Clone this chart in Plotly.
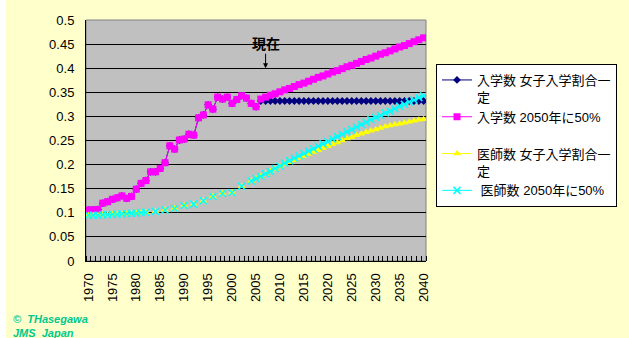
import plotly.graph_objects as go

# Years on the category axis
years = list(range(1970, 2041))

# Female share of medical school entrants, observed 1970-2005
entrants_observed = [
    0.106, 0.106, 0.107, 0.120, 0.123, 0.128, 0.131, 0.135, 0.130, 0.134,
    0.149, 0.161, 0.167, 0.185, 0.185, 0.192, 0.204, 0.239, 0.232, 0.251,
    0.253, 0.263, 0.261, 0.297, 0.303, 0.324, 0.315, 0.340, 0.336, 0.340,
    0.327, 0.335, 0.343, 0.338, 0.327, 0.320,
]
# Projection 2006-2040: entrant share held constant
entrants_constant = [
    0.332, 0.332, 0.332, 0.332, 0.332, 0.332, 0.332, 0.332, 0.332, 0.332,
    0.332, 0.332, 0.332, 0.332, 0.332, 0.332, 0.332, 0.332, 0.332, 0.332,
    0.332, 0.332, 0.332, 0.332, 0.332, 0.332, 0.332, 0.332, 0.332, 0.332,
    0.332, 0.332, 0.332, 0.332, 0.332,
]
# Projection 2006-2040: entrant share reaching 50% in 2050
entrants_to50 = [
    0.336, 0.340, 0.344, 0.347, 0.351, 0.355, 0.358, 0.362, 0.366, 0.369,
    0.373, 0.377, 0.381, 0.384, 0.388, 0.392, 0.395, 0.399, 0.403, 0.406,
    0.410, 0.414, 0.418, 0.421, 0.425, 0.429, 0.432, 0.436, 0.440, 0.444,
    0.447, 0.451, 0.455, 0.459, 0.463,
]

# Female share of physicians, observed 1970-2004 (biennial survey after 1982)
doctors_observed = [
    0.095, 0.095, 0.095, 0.096, 0.096, 0.097, 0.097, 0.098, 0.098, 0.099,
    0.099, 0.100, 0.101, None, 0.103, None, 0.106, None, 0.109, None,
    0.115, None, 0.118, None, 0.125, None, 0.134, None, 0.140, None,
    0.142, None, 0.155, None, 0.166,
]
# Projection 2005-2040 with constant entrant share
doctors_constant = [
    0.171, 0.176, 0.181, 0.186, 0.191, 0.196, 0.201, 0.205, 0.209, 0.214,
    0.218, 0.222, 0.226, 0.230, 0.234, 0.238, 0.242, 0.246, 0.250, 0.254,
    0.257, 0.261, 0.264, 0.267, 0.270, 0.273, 0.276, 0.279, 0.281, 0.283,
    0.285, 0.287, 0.289, 0.291, 0.293, 0.294,
]
# Projection 2005-2040 with entrant share reaching 50% in 2050
doctors_to50 = [
    0.171, 0.176, 0.181, 0.186, 0.192, 0.197, 0.203, 0.208, 0.213, 0.218,
    0.223, 0.228, 0.233, 0.238, 0.243, 0.248, 0.253, 0.258, 0.263, 0.268,
    0.273, 0.278, 0.283, 0.288, 0.293, 0.298, 0.302, 0.307, 0.311, 0.316,
    0.321, 0.325, 0.330, 0.334, 0.339, 0.343,
]

series_names = [
    "入学数 女子入学割合一<br>定",
    "入学数 2050年に50%<br> ",
    "医師数 女子入学割合一<br>定",
    " 医師数 2050年に50%",
]

x_tick_labels = [str(y) for y in range(1970, 2041, 5)]
y_tick_values = [i * 0.05 for i in range(11)]

FONT = "Liberation Sans, Arial, Noto Sans CJK JP, sans-serif"
W, H = 629, 338
L, R, T, B = 86, 203, 20, 77
PW, PH = W - L - R, H - T - B


def px_x(p):
    return (p - L) / PW


def px_y(p):
    return (H - B - p) / PH


fig = go.Figure()

fig.add_trace(go.Scatter(
    x=years, y=entrants_observed + entrants_constant, name=series_names[0],
    mode="lines+markers", connectgaps=False,
    line=dict(color="#000080", width=1),
    marker=dict(symbol="diamond", size=6, color="#000080"),
))
fig.add_trace(go.Scatter(
    x=years, y=entrants_observed + entrants_to50, name=series_names[1],
    mode="lines+markers", connectgaps=False,
    line=dict(color="#FF00FF", width=1),
    marker=dict(symbol="square", size=7, color="#FF00FF"),
))
fig.add_trace(go.Scatter(
    x=years, y=doctors_observed + doctors_constant, name=series_names[2],
    mode="lines+markers", connectgaps=False,
    line=dict(color="#FFFF00", width=1),
    marker=dict(symbol="triangle-up", size=7, color="#FFFF00"),
))
fig.add_trace(go.Scatter(
    x=years, y=doctors_observed + doctors_to50, name=series_names[3],
    mode="lines+markers", connectgaps=False,
    line=dict(color="#00FFFF", width=1),
    marker=dict(symbol="x-thin", size=7, color="#00FFFF",
                line=dict(color="#00FFFF", width=1.5)),
))

# Page background with a narrow white strip at the left, and the grey plot area
fig.add_shape(type="rect", xref="paper", yref="paper", layer="below",
              x0=px_x(6), x1=px_x(W + 2), y0=px_y(H + 2), y1=px_y(-2),
              fillcolor="#FFFFCC", line=dict(width=0))
fig.add_shape(type="rect", xref="paper", yref="paper", layer="below",
              x0=0, x1=1, y0=0, y1=1,
              fillcolor="#C0C0C0", line=dict(color="#808080", width=1))

# "現在" marker pointing at the start of the projections
fig.add_annotation(
    x=2007, y=0.40, xref="x", yref="y",
    text="<b>現在</b>", showarrow=True, ax=0, ay=-24,
    arrowhead=2, arrowsize=1, arrowwidth=1, arrowcolor="black",
    font=dict(family=FONT, size=14, color="black"),
)

# Copyright credit
fig.add_annotation(
    x=px_x(11), y=px_y(326), xref="paper", yref="paper",
    xanchor="left", yanchor="middle", showarrow=False, align="left",
    text="<b><i>©  THasegawa<br>JMS  Japan</i></b>",
    font=dict(family=FONT, size=11, color="#00C88C"),
)

fig.update_layout(
    width=W, height=H,
    margin=dict(l=L, r=R, t=T, b=B, autoexpand=False),
    paper_bgcolor="white",
    plot_bgcolor="rgba(0,0,0,0)",
    font=dict(family=FONT, size=13, color="black"),
    showlegend=True,
    legend=dict(
        x=px_x(436), y=px_y(64), xanchor="left", yanchor="top",
        bgcolor="white", bordercolor="black", borderwidth=1,
        font=dict(family=FONT, size=13, color="black"),
        valign="top", tracegroupgap=0, itemwidth=30,
    ),
    xaxis=dict(
        range=[1969.5, 2040.5],
        tickmode="array",
        tickvals=list(range(1970, 2041, 5)),
        ticktext=x_tick_labels,
        tickangle=-90,
        ticks="",
        ticklabelstandoff=6,
        minor=dict(tickmode="linear", tick0=1969.5, dtick=1,
                   ticks="inside", ticklen=5, tickcolor="black",
                   showgrid=False),
        showgrid=False, zeroline=False,
        showline=True, linecolor="black", linewidth=1,
        tickfont=dict(family=FONT, size=13, color="black"),
        automargin=False,
    ),
    yaxis=dict(
        range=[0, 0.5],
        tickmode="array",
        tickvals=y_tick_values,
        ticktext=[f"{v:.2f}".rstrip("0").rstrip(".") if v else "0" for v in y_tick_values],
        ticks="",
        ticklabelstandoff=8,
        showgrid=True, gridcolor="black", gridwidth=1,
        zeroline=False,
        showline=True, linecolor="black", linewidth=1,
        tickfont=dict(family=FONT, size=13, color="black"),
        automargin=False,
    ),
)

fig.write_html("out.html")
